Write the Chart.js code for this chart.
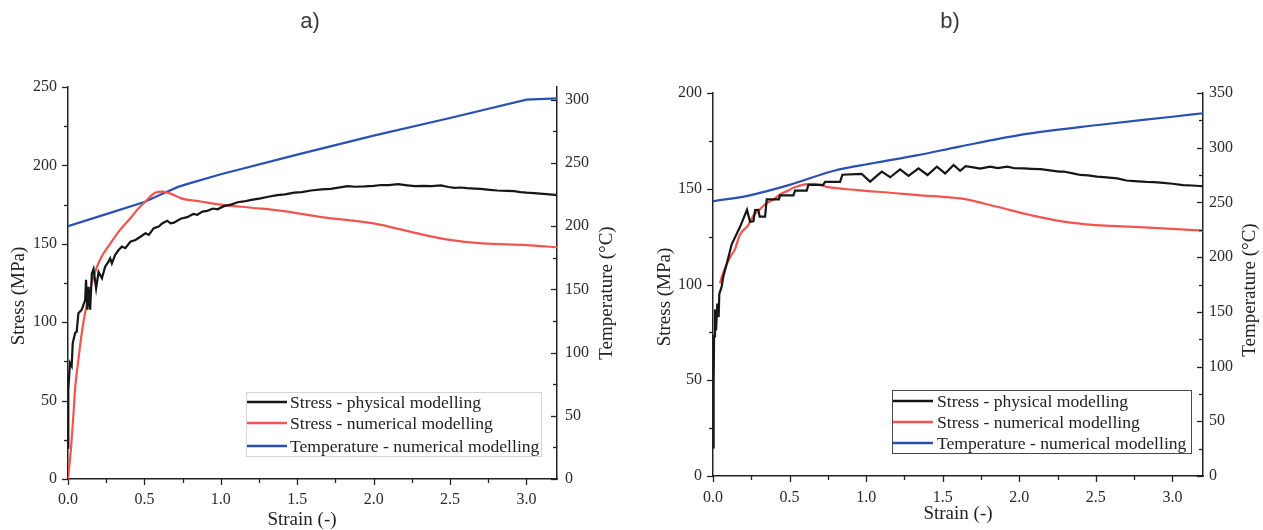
<!DOCTYPE html>
<html><head><meta charset="utf-8">
<script src="https://cdn.jsdelivr.net/npm/chart.js@4/dist/chart.umd.min.js"></script>
<style>
html,body{margin:0;padding:0;background:#fff;width:1263px;height:530px;overflow:hidden}
.wrap{position:absolute;top:0;height:530px}
canvas{display:block}
</style></head><body>
<div class="wrap" style="left:0;width:640px"><canvas id="ca" width="640" height="530"></canvas></div>
<div class="wrap" style="left:640px;width:623px"><canvas id="cb" width="623" height="530"></canvas></div>
<script>
// ---------- DATA ----------
const seriesLabels = ["Stress - physical modelling", "Stress - numerical modelling", "Temperature - numerical modelling"];
const strainTicks = [0, 0.5, 1.0, 1.5, 2.0, 2.5, 3.0];
const stressTicksA = [0, 50, 100, 150, 200, 250];
const tempTicksA = [0, 50, 100, 150, 200, 250, 300];
const stressTicksB = [0, 50, 100, 150, 200];
const tempTicksB = [0, 50, 100, 150, 200, 250, 300, 350];

// panel a) [strain, value]
const aStressPhysical = [[0,20],[0.002,57],[0.013,74],[0.024,72],[0.031,86.5],[0.046,93],[0.057,94],[0.068,105.7],[0.09,108],[0.112,114],[0.118,127],[0.127,108],[0.134,122.6],[0.145,108],[0.156,131],[0.167,134],[0.184,121.6],[0.2,132],[0.222,128],[0.243,135.4],[0.265,138.6],[0.276,140.7],[0.287,137.5],[0.309,143],[0.331,146],[0.353,148.2],[0.375,147.2],[0.408,151.3],[0.441,152.4],[0.474,154.5],[0.507,156.7],[0.529,155.7],[0.561,160],[0.594,161],[0.616,163],[0.649,164.7],[0.671,163],[0.693,163.5],[0.737,166],[0.78,167],[0.82,169],[0.846,168.5],[0.88,170.5],[0.91,171],[0.95,172.5],[0.978,172],[1.02,174],[1.066,175],[1.11,176.5],[1.15,177],[1.2,178],[1.26,179],[1.31,180],[1.37,181],[1.42,181.5],[1.48,182.6],[1.53,183],[1.59,184],[1.66,184.7],[1.72,185],[1.78,186],[1.83,186.8],[1.88,186.4],[1.94,186.6],[2.0,187],[2.05,187.5],[2.1,187.4],[2.16,188],[2.22,187.3],[2.27,186.8],[2.33,187],[2.38,186.8],[2.44,187.3],[2.49,186.2],[2.53,185.7],[2.57,185.9],[2.61,185.5],[2.66,185.2],[2.7,185],[2.76,184.4],[2.81,184],[2.87,183.8],[2.92,183.6],[2.96,183],[3.0,182.6],[3.05,182.3],[3.09,182],[3.15,181.5],[3.2,181]];
const aStressNumerical = [[0,0],[0.02,20],[0.035,40],[0.046,57],[0.068,76],[0.09,93],[0.112,106],[0.134,116],[0.167,129],[0.21,140],[0.276,150],[0.342,159],[0.408,166.3],[0.46,172.5],[0.507,177],[0.57,182.5],[0.62,183.3],[0.67,182],[0.74,179],[0.87,177],[1.0,175],[1.2,173],[1.4,171],[1.66,167],[2.0,163],[2.27,157],[2.5,152.5],[2.71,150.3],[3.0,149.2],[3.2,147.8]];
const aTemperature = [[0,200],[0.25,209.5],[0.5,219],[0.6,224.5],[0.72,231],[0.8,234],[1.0,241],[1.5,256.5],[2.0,271.5],[2.5,285.5],[3.0,300],[3.2,301]];

// panel b) [strain, value]
const bStressPhysical = [[0,15],[0.004,48],[0.007,73],[0.013,87],[0.02,76],[0.028,90],[0.037,83],[0.041,95],[0.057,99],[0.067,104],[0.09,111],[0.122,121],[0.176,130],[0.222,139],[0.242,132.8],[0.264,133],[0.275,138.9],[0.296,139],[0.305,135.4],[0.34,135.4],[0.351,144.5],[0.36,144.5],[0.43,144.5],[0.438,146.5],[0.525,146.5],[0.536,149],[0.612,149],[0.623,152],[0.72,152],[0.732,153.6],[0.83,153.6],[0.845,157.3],[0.97,157.8],[1.026,153.7],[1.102,158.9],[1.157,156],[1.222,160.1],[1.277,156.7],[1.342,160.7],[1.401,157.2],[1.462,161.5],[1.516,158],[1.571,162.4],[1.614,159.4],[1.65,161.8],[1.7,161.2],[1.745,160.5],[1.81,161.5],[1.86,160.8],[1.92,161.5],[1.97,160.7],[2.03,160.6],[2.08,160.4],[2.14,160.2],[2.2,159.6],[2.26,158.9],[2.29,159],[2.35,158],[2.4,157.2],[2.45,157],[2.507,156.3],[2.57,155.9],[2.64,155.4],[2.7,154.3],[2.75,154],[2.83,153.6],[2.88,153.5],[2.94,153.1],[3.0,152.6],[3.07,151.9],[3.13,151.7],[3.2,151.3]];
const bStressNumerical = [[0.046,100.5],[0.057,104],[0.11,114],[0.144,118.5],[0.176,126],[0.23,131],[0.264,136],[0.296,138.5],[0.35,142.5],[0.384,143.8],[0.438,147],[0.49,149],[0.525,150.5],[0.6,152.3],[0.656,152.5],[0.743,151],[0.94,149.3],[1.157,147.9],[1.375,146.4],[1.5,145.8],[1.636,144.7],[1.854,140.6],[2.072,136.3],[2.29,132.8],[2.5,131],[2.72,130.2],[2.94,129.3],[3.2,128.1]];
const bTemperature = [[0,251],[0.24,256.5],[0.5,266],[0.79,279],[1.05,286],[1.33,293],[1.61,301],[2.0,311.5],[2.5,320.5],[3.0,328.3],[3.2,331.5]];

// ---------- STYLE ----------
const COL_BLACK = '#161616', COL_RED = '#f2554f', COL_BLUE = '#2a50b3';
const SERIF = '"Liberation Serif", "DejaVu Serif", serif';
const tickFont = {family: SERIF, size: 16};

const toXY = arr => arr.map(p => ({x: p[0], y: p[1]}));

const decor = {
  id: 'decor',
  afterDraw(chart, args, o) {
    const ctx = chart.ctx;
    ctx.save();
    ctx.strokeStyle = '#222';
    ctx.lineWidth = 1.3;
    for (const s of o.marks) {
      const sc = chart.scales[s.id];
      const n = Math.round((sc.max - sc.min) / s.minor + 1e-6);
      for (let i = 0; i <= n; i++) {
        const v = sc.min + i * s.minor;
        if (v > sc.max + 1e-9) break;
        const isMajor = Math.abs(v / s.major - Math.round(v / s.major)) < 1e-6;
        const len = isMajor ? s.majLen : s.minLen;
        const p = Math.round(sc.getPixelForValue(v)) + 0.5;
        ctx.beginPath();
        if (s.side === 'bottom') { ctx.moveTo(p, sc.top); ctx.lineTo(p, sc.top + len); }
        else if (s.side === 'left') { ctx.moveTo(sc.right, p); ctx.lineTo(sc.right - len, p); }
        else if (s.side === 'rightIn') { ctx.moveTo(sc.left, p); ctx.lineTo(sc.left - len, p); }
        ctx.stroke();
      }
    }
    for (const t of o.texts) {
      ctx.save();
      ctx.font = t.font;
      ctx.fillStyle = t.color || '#222';
      ctx.textAlign = 'center';
      ctx.textBaseline = 'middle';
      ctx.translate(t.x, t.y);
      if (t.rot) ctx.rotate(t.rot);
      ctx.fillText(t.text, 0, 0);
      ctx.restore();
    }
    const L = o.legend;
    ctx.strokeStyle = L.border;
    ctx.lineWidth = 1;
    ctx.strokeRect(L.x1 + 0.5, L.y1 + 0.5, L.x2 - L.x1, L.y2 - L.y1);
    ctx.font = '17.6px ' + SERIF;
    ctx.textAlign = 'left';
    ctx.textBaseline = 'middle';
    chart.data.datasets.forEach((d, i) => {
      const y = L.rows[i];
      ctx.strokeStyle = d.borderColor;
      ctx.lineWidth = 2.4;
      ctx.beginPath(); ctx.moveTo(L.lx1, y); ctx.lineTo(L.lx2, y); ctx.stroke();
      ctx.fillStyle = '#222';
      ctx.fillText(d.label, L.tx, y + 1);
    });
    ctx.restore();
  }
};

function makeChart(id, cfg) {
  const ticksFn = arr => s => { s.ticks = arr.map(v => ({value: v})); };
  return new Chart(document.getElementById(id), {
    type: 'line',
    data: {
      datasets: [
        {label: seriesLabels[0], data: toXY(cfg.phys), borderColor: COL_BLACK, borderWidth: 2.2, pointRadius: 0, tension: 0, yAxisID: 'y'},
        {label: seriesLabels[1], data: toXY(cfg.num), borderColor: COL_RED, borderWidth: 2.2, pointRadius: 0, cubicInterpolationMode: 'monotone', yAxisID: 'y'},
        Object.assign({label: seriesLabels[2], data: toXY(cfg.temp), borderColor: COL_BLUE, borderWidth: 2.2, pointRadius: 0, yAxisID: 'y1'}, cfg.tempSmooth ? {cubicInterpolationMode: 'monotone'} : {tension: 0})
      ]
    },
    options: {
      responsive: false,
      animation: false,
      events: [],
      layout: {padding: {top: cfg.top, left: 0, right: 0, bottom: 0}},
      plugins: {
        legend: {display: false},
        tooltip: {enabled: false},
        decor: cfg.decor
      },
      scales: {
        x: {
          type: 'linear', position: 'bottom', min: 0, max: 3.2,
          afterBuildTicks: ticksFn(strainTicks),
          afterFit: s => { s.height = cfg.xH; },
          grid: {display: false, drawTicks: false},
          border: {display: true, color: '#222', width: 1.5},
          ticks: {padding: cfg.xPad, font: tickFont, color: '#2a2a2a', maxRotation: 0, autoSkip: false, callback: v => Number(v).toFixed(1)}
        },
        y: {
          type: 'linear', position: 'left', min: 0, max: cfg.yMax,
          afterBuildTicks: ticksFn(cfg.yTicks),
          afterFit: s => { s.width = cfg.yW; },
          grid: {display: false, drawTicks: false},
          border: {display: true, color: '#222', width: 1.5},
          ticks: {padding: 11, font: tickFont, color: '#2a2a2a', autoSkip: false, callback: v => String(v)}
        },
        y1: {
          type: 'linear', position: 'right', min: 0, max: cfg.y1Max,
          afterBuildTicks: ticksFn(cfg.y1Ticks),
          afterFit: s => { s.width = cfg.y1W; },
          grid: {display: false, drawTicks: false},
          border: {display: true, color: '#222', width: 1.5},
          ticks: {padding: cfg.y1Pad, font: tickFont, color: '#2a2a2a', autoSkip: false, callback: v => String(v)}
        }
      }
    },
    plugins: [decor]
  });
}

const titleFont = '19px ' + SERIF;
const panelFont = '22px "Liberation Sans", Arial, sans-serif';
const marks = () => [
  {id: 'x', side: 'bottom', major: 0.5, minor: 0.25, majLen: 6, minLen: 4},
  {id: 'y', side: 'left', major: 50, minor: 25, majLen: 6, minLen: 4},
  {id: 'y1', side: 'rightIn', major: 50, minor: 25, majLen: 6, minLen: 4}
];

makeChart('ca', {
  phys: aStressPhysical, num: aStressNumerical, temp: aTemperature, tempSmooth: false,
  top: 87, xH: 51, yW: 68, y1W: 83, xPad: 11, y1Pad: 8,
  yMax: 250, yTicks: stressTicksA, y1Max: 310, y1Ticks: tempTicksA,
  decor: {
    marks: marks(),
    texts: [
      {text: 'a)', x: 310, y: 22, font: panelFont, color: '#3a3a3a'},
      {text: 'Stress (MPa)', x: 19, y: 296, rot: -Math.PI / 2, font: titleFont},
      {text: 'Temperature (°C)', x: 607, y: 293, rot: -Math.PI / 2, font: titleFont},
      {text: 'Strain (-)', x: 302, y: 520, font: titleFont}
    ],
    legend: {x1: 246, y1: 392, x2: 541, y2: 456, border: '#d4d4d4', rows: [402, 423, 446], lx1: 247, lx2: 287, tx: 290}
  }
});

makeChart('cb', {
  phys: bStressPhysical, num: bStressNumerical, temp: bTemperature, tempSmooth: true,
  top: 93, xH: 54, yW: 73, y1W: 60, xPad: 12, y1Pad: 6,
  yMax: 200, yTicks: stressTicksB, y1Max: 350, y1Ticks: tempTicksB,
  decor: {
    marks: marks(),
    texts: [
      {text: 'b)', x: 310, y: 22, font: panelFont, color: '#3a3a3a'},
      {text: 'Stress (MPa)', x: 25, y: 297, rot: -Math.PI / 2, font: titleFont},
      {text: 'Temperature (°C)', x: 610, y: 290, rot: -Math.PI / 2, font: titleFont},
      {text: 'Strain (-)', x: 318, y: 514, font: titleFont}
    ],
    legend: {x1: 252, y1: 390, x2: 551, y2: 453, border: '#4a4a4a', rows: [401, 422, 443], lx1: 253, lx2: 293, tx: 297}
  }
});
</script>
</body></html>
